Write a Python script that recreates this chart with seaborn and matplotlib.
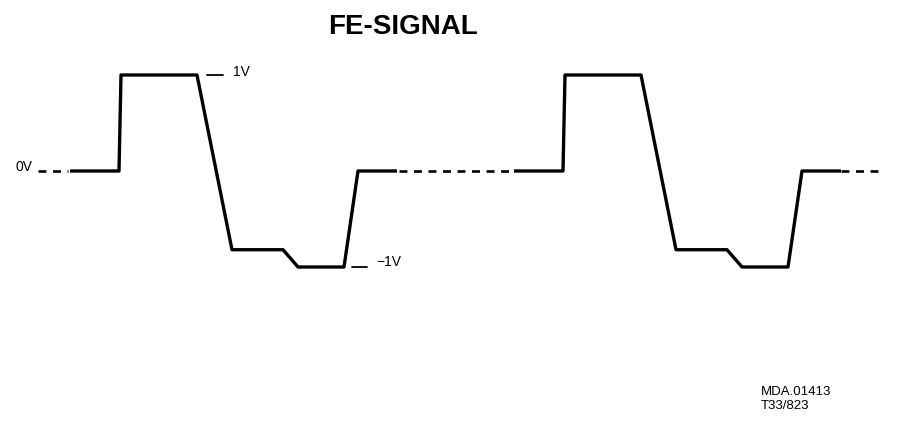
import matplotlib
matplotlib.use("Agg")
import matplotlib.pyplot as plt
import seaborn as sns
import pandas as pd
import numpy as np

sns.set_style("white")
plt.rcParams['font.family'] = ['Liberation Sans', 'DejaVu Sans']
plt.rcParams['text.color'] = 'black'

# Time axis in arbitrary units, voltage in V
period_offset = 444
wave_t = [70, 119, 121, 197, 232, 283, 290.5, 298, 344, 358, 397]
wave_v = [0, 0, 1, 1, -0.82, -0.82, -0.91, -1, -1, 0, 0]
dash_segments = [(38, 68), (399, 514), (841, 882)]
level_labels = ["0V", "1V", "\u22121V"]
title = "FE-SIGNAL"
ref_lines = ["MDA.01413", "T33/823"]

fig = plt.figure(figsize=(9.22, 4.28), dpi=100)
ax = fig.add_axes([0, 0, 1, 1])
ax.set_xlim(0, 922)
ax.set_ylim((171 - 428) / 96, 171 / 96)
ax.axis("off")

frames = []
for k in range(2):
    frames.append(pd.DataFrame({
        "t": np.array(wave_t) + k * period_offset,
        "v": wave_v,
        "cycle": k,
    }))
df = pd.concat(frames, ignore_index=True)
for k, sub in df.groupby("cycle"):
    sns.lineplot(data=sub, x="t", y="v", sort=False, estimator=None, ax=ax,
                 color="black", lw=2.4, solid_joinstyle="round",
                 solid_capstyle="butt", legend=False)

for a, b in dash_segments:
    ax.plot([a, b], [0, 0], color="black", lw=1.9, dashes=(3.0, 2.5))

# level markers
ax.plot([207, 223], [1, 1], color="black", lw=1.3)
ax.plot([352, 367], [-1, -1], color="black", lw=1.3)
ax.text(233, 1.03, level_labels[1], fontsize=10, va="center", ha="left", color="black")
ax.text(376, -0.95, level_labels[2], fontsize=10, va="center", ha="left", color="black")
ax.text(15, 0.04, level_labels[0], fontsize=10, va="center", ha="left", color="black")

ax.text(403, (171 - 27) / 96, title, fontsize=20, fontweight="bold",
        ha="center", va="center", color="black")
ax.text(761, (171 - 392) / 96, ref_lines[0], fontsize=9.5, ha="left", va="center", color="black")
ax.text(761, (171 - 406) / 96, ref_lines[1], fontsize=9.5, ha="left", va="center", color="black")

fig.savefig("out.png", dpi=100, facecolor="white")
